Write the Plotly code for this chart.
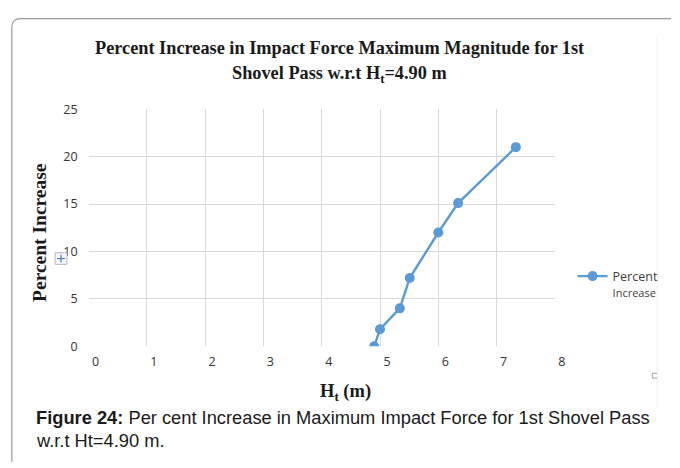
import plotly.graph_objects as go

# Tipping height Ht (m) and percent increase in max impact force
ht_values = [4.90, 5.00, 5.34, 5.51, 6.00, 6.34, 7.33]
percent_increase = [0.0, 1.8, 4.0, 7.2, 12.0, 15.1, 21.0]
x_ticks = [0, 1, 2, 3, 4, 5, 6, 7, 8]
y_ticks = [0, 5, 10, 15, 20, 25]

W, H = 680, 468


def px(x):
    return x / W


def py(y):
    return 1 - y / H


SERIF = "Liberation Serif"
SANS = "Liberation Sans"
BLUE = "#5b9bd5"
TICK_FONT = dict(family="Open Sans", size=12.5, color="#333333")

fig = go.Figure()
fig.add_trace(go.Scatter(
    x=ht_values, y=percent_increase, mode="lines+markers",
    name="Percent<br><span style='font-size:11px'>Increase</span>",
    line=dict(color=BLUE, width=2.4),
    marker=dict(color=BLUE, size=10),
))

fig.update_layout(
    width=W, height=H,
    margin=dict(l=0, r=0, t=0, b=0),
    paper_bgcolor="white", plot_bgcolor="white",
    showlegend=True,
    legend=dict(
        x=px(582), y=py(262), xanchor="left", yanchor="top",
        font=dict(family="Open Sans", size=12.5, color="#404040"),
        itemwidth=30, bgcolor="rgba(0,0,0,0)", valign="top",
        tracegroupgap=0,
    ),
    xaxis=dict(
        domain=[px(90), px(564)], range=[0, 8],
        tickvals=x_ticks, showgrid=True, gridcolor="#d9d9d9", gridwidth=1,
        zeroline=False, showline=False, ticks="",
        tickfont=TICK_FONT,
        ticklabelstandoff=6, ticklabelshift=7,
    ),
    yaxis=dict(
        domain=[py(350), py(104)], range=[0, 25],
        tickvals=y_ticks, showgrid=True, gridcolor="#d9d9d9", gridwidth=1,
        zeroline=False, showline=False, ticks="",
        tickfont=TICK_FONT,
        ticklabelstandoff=10,
    ),
)

annotations = [
    dict(text="<b>Percent Increase in Impact Force Maximum Magnitude for 1st</b>",
         x=px(345), y=py(40.5), font=dict(family=SERIF, size=18.3, color="#1a1a1a")),
    dict(text="<b>Shovel Pass w.r.t H<sub>t</sub>=4.90 m</b>",
         x=px(345), y=py(67.5), font=dict(family=SERIF, size=18.3, color="#1a1a1a")),
    dict(text="<b>H<sub>t</sub> (m)</b>",
         x=px(323), y=py(398), xanchor="left",
         font=dict(family=SERIF, size=18.5, color="#1a1a1a")),
    dict(text="<b>Percent Increase</b>", textangle=-90,
         x=px(40), y=py(232), font=dict(family=SERIF, size=19.5, color="#1a1a1a")),
    dict(text="<b>Figure 24:</b> Per cent Increase in Maximum Impact Force for 1st Shovel Pass",
         x=px(35), y=py(424), xanchor="left",
         font=dict(family=SANS, size=18.3, color="#1a1a1a")),
    dict(text="w.r.t Ht=4.90 m.",
         x=px(35), y=py(448), xanchor="left",
         font=dict(family=SANS, size=18.3, color="#1a1a1a")),
]
for a in annotations:
    a.setdefault("xanchor", "center")
    a.update(xref="paper", yref="paper", yanchor="middle", showarrow=False)
    fig.add_annotation(**a)

# Rounded outer frame (open at right and bottom)
r = 9
left, top = 12, 10
path = (f"M {px(left)},{py(H + 2)} L {px(left)},{py(top + r)} "
        f"Q {px(left)},{py(top)} {px(left + r)},{py(top)} L {px(W + 2)},{py(top)}")
fig.add_shape(type="path", path=path, xref="paper", yref="paper",
              line=dict(color="#9a9a9a", width=1.2))
# Faint inner chart edge on the right
fig.add_shape(type="line", x0=px(668), x1=px(668), y0=py(28), y1=py(415),
              xref="paper", yref="paper", line=dict(color="#ececec", width=1))

# Small move handle beside the y axis
fig.add_shape(type="rect", x0=px(56), x1=px(68), y0=py(265), y1=py(253),
              xref="paper", yref="paper", line=dict(color="#b8b8b8", width=1),
              fillcolor="#f4f6fa")
fig.add_shape(type="line", x0=px(58), x1=px(66), y0=py(259), y1=py(259),
              xref="paper", yref="paper", line=dict(color="#4a7fc0", width=1.2))
fig.add_shape(type="line", x0=px(62), x1=px(62), y0=py(255), y1=py(263),
              xref="paper", yref="paper", line=dict(color="#4a7fc0", width=1.2))

# Small resize marker at the lower right
bracket = (f"M {px(668)},{py(378)} L {px(663)},{py(378)} "
           f"L {px(663)},{py(383)} L {px(668)},{py(383)}")
fig.add_shape(type="path", path=bracket, xref="paper", yref="paper",
              line=dict(color="#a0a0a0", width=1))

fig.write_html("out.html")
